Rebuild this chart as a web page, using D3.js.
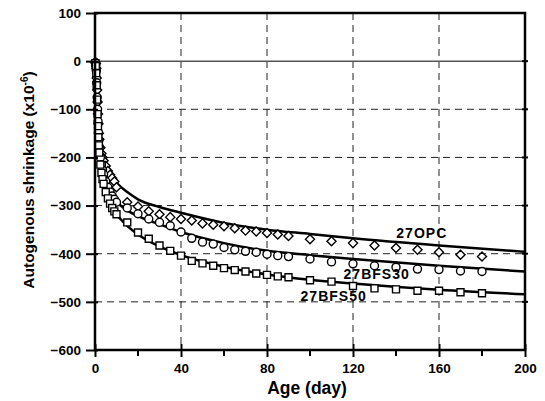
<!DOCTYPE html>
<html>
<head>
<meta charset="utf-8">
<script src="https://cdn.jsdelivr.net/npm/d3@7"></script>
<style>
  body { margin: 0; background: #fff; }
  text { font-family: "Liberation Sans", Arial, sans-serif; font-weight: bold; }
</style>
</head>
<body>
<script>
// data
const markerAges = [0.2, 0.4, 0.6, 0.8, 1.0, 1.2, 1.4, 1.6, 1.8, 2, 2.5, 3, 3.5, 4, 5, 6, 7, 8, 9, 10,
                    15, 20, 25, 30, 35, 40, 45, 50, 55, 60, 65, 70, 75, 80, 85, 90,
                    100, 110, 120, 130, 140, 150, 160, 170, 180];
const opcMarkers = [-2, -5, -15, -35, -60, -85, -110, -130, -150, -162, -180, -192, -200, -207, -218, -228, -236, -243, -250, -262,
                    -293, -302, -312, -318, -324, -328, -331, -337, -340, -343, -347, -352, -354, -357, -360, -363,
                    -370, -374, -378, -383, -388, -392, -397, -402, -406];
const bfs30Markers = [-3, -8, -20, -45, -75, -100, -125, -148, -165, -178, -200, -215, -226, -235, -250, -262, -272, -280, -287, -293,
                      -305, -317, -328, -335, -342, -355, -368, -376, -380, -387, -392, -395, -397, -401, -404, -406,
                      -411, -417, -421, -425, -428, -432, -433, -436, -437];
const bfs50Markers = [-4, -10, -25, -50, -80, -110, -135, -158, -175, -190, -215, -232, -245, -255, -272, -285, -296, -305, -312, -318,
                      -335, -356, -369, -383, -394, -404, -415, -420, -425, -430, -434, -437, -441, -444, -447, -449,
                      -455, -458, -467, -472, -474, -477, -477, -480, -482];

const lineAges = [0.5, 1, 1.2, 1.5, 2, 3, 5, 7, 10, 15, 20, 30, 40, 60, 80, 100, 120, 160, 200];
const opcLine = [0, -40, -70, -120, -160, -192, -220, -236, -253, -272, -287, -303, -315, -336, -350, -359, -368, -383, -396];
const bfs30Line = [0, -50, -85, -140, -185, -222, -255, -275, -292, -310, -322, -339, -355, -378, -394, -403, -411, -425, -437];
const bfs50Line = [0, -60, -95, -150, -200, -240, -275, -298, -318, -342, -360, -385, -403, -427, -443, -454, -462, -475, -484];

const seriesNames = ["27OPC", "27BFS30", "27BFS50"];
const labelAt = [[152, -368], [131, -452], [111, -498]];

const xTicks = [0, 40, 80, 120, 160, 200];
const xMinor = [20, 60, 100, 140, 180];
const yTicks = [100, 0, -100, -200, -300, -400, -500, -600];

const width = 545, height = 401;
const plotLeft = 95, plotRight = 525, plotTop = 13, plotBottom = 350;

const x = d3.scaleLinear().domain([0, 200]).range([plotLeft, plotRight]);
const y = d3.scaleLinear().domain([-600, 100]).range([plotBottom, plotTop]);

const svg = d3.select("body").append("svg")
    .attr("width", width).attr("height", height);

svg.append("rect").attr("width", width).attr("height", height).attr("fill", "#fff");

// grid
svg.append("g").selectAll("line")
    .data(xTicks.slice(1, -1))
    .join("line")
    .attr("x1", d => x(d)).attr("x2", d => x(d))
    .attr("y1", plotTop).attr("y2", plotBottom)
    .attr("stroke", "#222").attr("stroke-width", 1).attr("stroke-dasharray", "7,5");

svg.append("g").selectAll("line")
    .data(yTicks.filter(d => d < 0 && d > -600))
    .join("line")
    .attr("x1", plotLeft).attr("x2", plotRight)
    .attr("y1", d => y(d)).attr("y2", d => y(d))
    .attr("stroke", "#222").attr("stroke-width", 1).attr("stroke-dasharray", "7,5");

svg.append("line")
    .attr("x1", plotLeft).attr("x2", plotRight)
    .attr("y1", y(0)).attr("y2", y(0))
    .attr("stroke", "#555").attr("stroke-width", 1.5);

// curves
const lineGen = d3.line()
    .x(d => x(d[0])).y(d => y(d[1]))
    .curve(d3.curveMonotoneX);

[opcLine, bfs30Line, bfs50Line].forEach(vals => {
    svg.append("path")
        .datum(lineAges.map((a, i) => [a, vals[i]]))
        .attr("d", lineGen)
        .attr("fill", "none").attr("stroke", "#000").attr("stroke-width", 2.5);
});

// markers
const mk = svg.append("g").attr("fill", "#fff").attr("stroke", "#000").attr("stroke-width", 1.4);

mk.selectAll(".dia")
    .data(markerAges.map((a, i) => [a, opcMarkers[i]]))
    .join("path").attr("class", "dia")
    .attr("d", d3.symbol(d3.symbolDiamond2, 52))
    .attr("transform", d => `translate(${x(d[0])},${y(d[1])})`);

mk.selectAll(".cir")
    .data(markerAges.map((a, i) => [a, bfs30Markers[i]]))
    .join("circle").attr("class", "cir")
    .attr("cx", d => x(d[0])).attr("cy", d => y(d[1])).attr("r", 4);

mk.selectAll(".sq")
    .data(markerAges.map((a, i) => [a, bfs50Markers[i]]))
    .join("path").attr("class", "sq")
    .attr("d", d3.symbol(d3.symbolSquare2, 62))
    .attr("transform", d => `translate(${x(d[0])},${y(d[1])})`);

// series labels
svg.append("g").selectAll("text")
    .data(seriesNames)
    .join("text")
    .attr("x", (d, i) => x(labelAt[i][0])).attr("y", (d, i) => y(labelAt[i][1]))
    .attr("text-anchor", "middle").attr("font-size", 14)
    .attr("letter-spacing", 1)
    .text(d => d);

// frame
svg.append("rect")
    .attr("x", plotLeft).attr("y", plotTop)
    .attr("width", plotRight - plotLeft).attr("height", plotBottom - plotTop)
    .attr("fill", "none").attr("stroke", "#000").attr("stroke-width", 2.5);

// axes
const bottomAxis = d3.axisBottom(x).tickValues(xTicks).tickSize(7).tickPadding(6);
const gx = svg.append("g").attr("transform", `translate(0,${plotBottom})`).call(bottomAxis);
gx.select(".domain").remove();
gx.selectAll(".tick line").attr("y1", -6).attr("stroke-width", 2);
gx.selectAll(".tick text").attr("font-size", 13.5);

svg.append("g").selectAll("line")
    .data(xMinor)
    .join("line")
    .attr("x1", d => x(d)).attr("x2", d => x(d))
    .attr("y1", plotBottom).attr("y2", plotBottom + 6)
    .attr("stroke", "#000").attr("stroke-width", 2);

const leftAxis = d3.axisLeft(y).tickValues(yTicks).tickSize(9).tickPadding(5);
const gy = svg.append("g").attr("transform", `translate(${plotLeft},0)`).call(leftAxis);
gy.select(".domain").remove();
gy.selectAll(".tick line").attr("x1", 3).attr("stroke-width", 2);
gy.selectAll(".tick text").attr("font-size", 13.5);

svg.append("g").selectAll("line")
    .data(yTicks.slice(1, -1))
    .join("line")
    .attr("x1", plotRight - 3).attr("x2", plotRight + 3)
    .attr("y1", d => y(d)).attr("y2", d => y(d))
    .attr("stroke", "#000").attr("stroke-width", 2);

// titles
svg.append("text")
    .attr("x", 307).attr("y", 394)
    .attr("text-anchor", "middle").attr("font-size", 17.5)
    .text("Age (day)");

const yt = svg.append("text")
    .attr("transform", "translate(34,180) rotate(-90)")
    .attr("text-anchor", "middle").attr("font-size", 15.5);
yt.append("tspan").text("Autogenous shrinkage (x10");
yt.append("tspan").attr("dy", -6).attr("font-size", 10).text("-6");
yt.append("tspan").attr("dy", 6).text(")");
</script>
</body>
</html>
